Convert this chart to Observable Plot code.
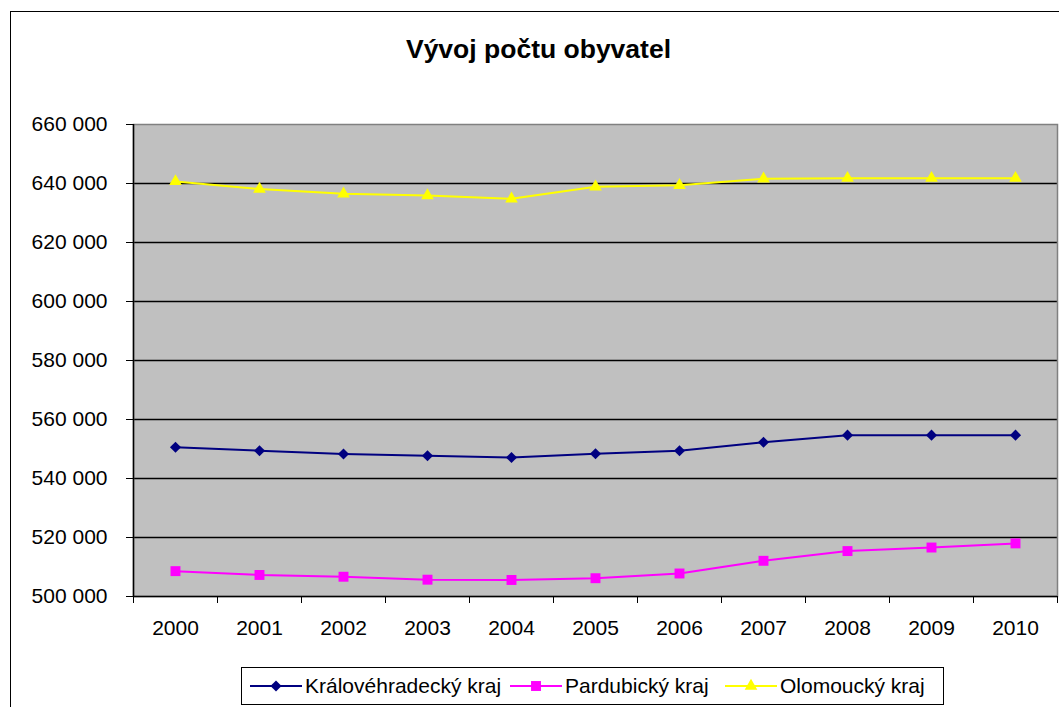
<!DOCTYPE html>
<html>
<head>
<meta charset="utf-8">
<script src="https://cdn.jsdelivr.net/npm/d3@7"></script>
<script src="https://cdn.jsdelivr.net/npm/@observablehq/plot@0.6"></script>
<style>
  html, body { margin: 0; padding: 0; background: #fff; }
  body { width: 1059px; height: 707px; overflow: hidden; position: relative;
         font-family: "Liberation Sans", Arial, sans-serif; color: #000; }
  #border { position: absolute; left: 10px; top: 11px; width: 1100px; height: 800px;
            border: 1px solid #000; box-sizing: border-box; pointer-events: none; }
  #title { box-sizing: border-box; width: 1059px; height: 100px; padding-top: 34px; padding-left: 18px;
           text-align: center; font-weight: bold; font-size: 26.5px; line-height: 30px; }
  #chart { height: 550px; }
  #chart svg { display: block; }
  #legend { position: relative; margin-top: 17px; margin-left: 241px; width: 703px; height: 38px;
            border: 1px solid #000; box-sizing: border-box; background: #fff; }
  .item { position: absolute; top: 0; height: 36px; display: flex; align-items: center;
          font-size: 21px; white-space: nowrap; }
  .item svg { margin-right: 3px; }
</style>
</head>
<body>
<div id="border"></div>
<div id="title">Vývoj počtu obyvatel</div>
<div id="chart"></div>
<div id="legend"></div>
<script>
// ---- data ----
const years = [2000, 2001, 2002, 2003, 2004, 2005, 2006, 2007, 2008, 2009, 2010];
const kralovehradecky = [550600, 549400, 548300, 547700, 547100, 548400, 549400, 552300, 554700, 554700, 554700];
const pardubicky = [508600, 507300, 506700, 505700, 505600, 506200, 507800, 512100, 515400, 516600, 518000];
const olomoucky = [640700, 638100, 636500, 635900, 634800, 638900, 639400, 641600, 641800, 641800, 641800];
const seriesNames = ["Královéhradecký kraj", "Pardubický kraj", "Olomoucký kraj"];
const seriesColors = ["#000080", "#FF00FF", "#FFFF00"];
const seriesSymbols = ["diamond2", "square", "triangle"];
const yTicks = [500000, 520000, 540000, 560000, 580000, 600000, 620000, 640000, 660000];

// ---- build table ----
const seriesValues = [kralovehradecky, pardubicky, olomoucky];
const rows = [];
seriesValues.forEach((vals, i) => {
  vals.forEach((v, j) => rows.push({series: seriesNames[i], year: years[j], value: v}));
});
const boundaries = years.map(y => y - 0.5).concat([years[years.length - 1] + 0.5]);
const fmt = d => d3.format(",")(d).replace(/,/g, " ");
const symbolR = {"diamond2": 5, "square": 5.6, "triangle": 4.7};

const marks = [
  Plot.frame({fill: "#C0C0C0", stroke: null}),
  Plot.gridY(yTicks.slice(1, -1), {stroke: "#000", strokeOpacity: 1, strokeWidth: 1.3}),
  Plot.frame({stroke: "#808080", strokeWidth: 1.5}),
  Plot.ruleX([boundaries[0]], {stroke: "#000", strokeWidth: 1.5}),
  Plot.ruleY([yTicks[0]], {stroke: "#000", strokeWidth: 1.5}),
  Plot.axisY(yTicks, {tickSize: 7, tickPadding: 19, tickFormat: fmt, stroke: "#000", fontSize: 21, label: null}),
  Plot.axisX(boundaries, {tickSize: 7, tickFormat: () => "", stroke: "#000", label: null}),
  Plot.axisX(years, {tickSize: 0, tickPadding: 24, tickFormat: d => String(d), fontSize: 21, label: null})
];
seriesNames.forEach((name, i) => {
  const data = rows.filter(r => r.series === name);
  marks.push(Plot.lineY(data, {x: "year", y: "value", stroke: seriesColors[i], strokeWidth: 2}));
  marks.push(Plot.dot(data, {x: "year", y: "value", symbol: seriesSymbols[i], fill: seriesColors[i],
                             stroke: "none", r: symbolR[seriesSymbols[i]]}));
});

const chart = Plot.plot({
  width: 1059,
  height: 550,
  marginLeft: 133,
  marginRight: 2,
  marginTop: 24,
  marginBottom: 54,
  style: {fontFamily: '"Liberation Sans", Arial, sans-serif', fontSize: "21px", color: "#000", background: "transparent", overflow: "visible"},
  x: {type: "linear", domain: [boundaries[0], boundaries[boundaries.length - 1]], axis: null, label: null},
  y: {domain: [yTicks[0], yTicks[yTicks.length - 1]], axis: null, label: null},
  marks
});
document.getElementById("chart").appendChild(chart);

// ---- legend ----
const legend = document.getElementById("legend");
const itemLeft = [8, 268, 483];
seriesNames.forEach((name, i) => {
  const item = document.createElement("div");
  item.className = "item";
  item.style.left = itemLeft[i] + "px";
  const sw = d3.create("svg").attr("width", 52).attr("height", 20);
  sw.append("line").attr("x1", 0).attr("x2", 52).attr("y1", 10).attr("y2", 10)
    .attr("stroke", seriesColors[i]).attr("stroke-width", 2);
  const symMap = {"diamond2": d3.symbolDiamond2, "square": d3.symbolSquare, "triangle": d3.symbolTriangle};
  const rr = symbolR[seriesSymbols[i]];
  sw.append("path").attr("transform", "translate(26,10)")
    .attr("d", d3.symbol(symMap[seriesSymbols[i]], Math.PI * rr * rr)())
    .attr("fill", seriesColors[i]);
  item.appendChild(sw.node());
  const t = document.createElement("span");
  t.textContent = name;
  item.appendChild(t);
  legend.appendChild(item);
});
</script>
</body>
</html>
